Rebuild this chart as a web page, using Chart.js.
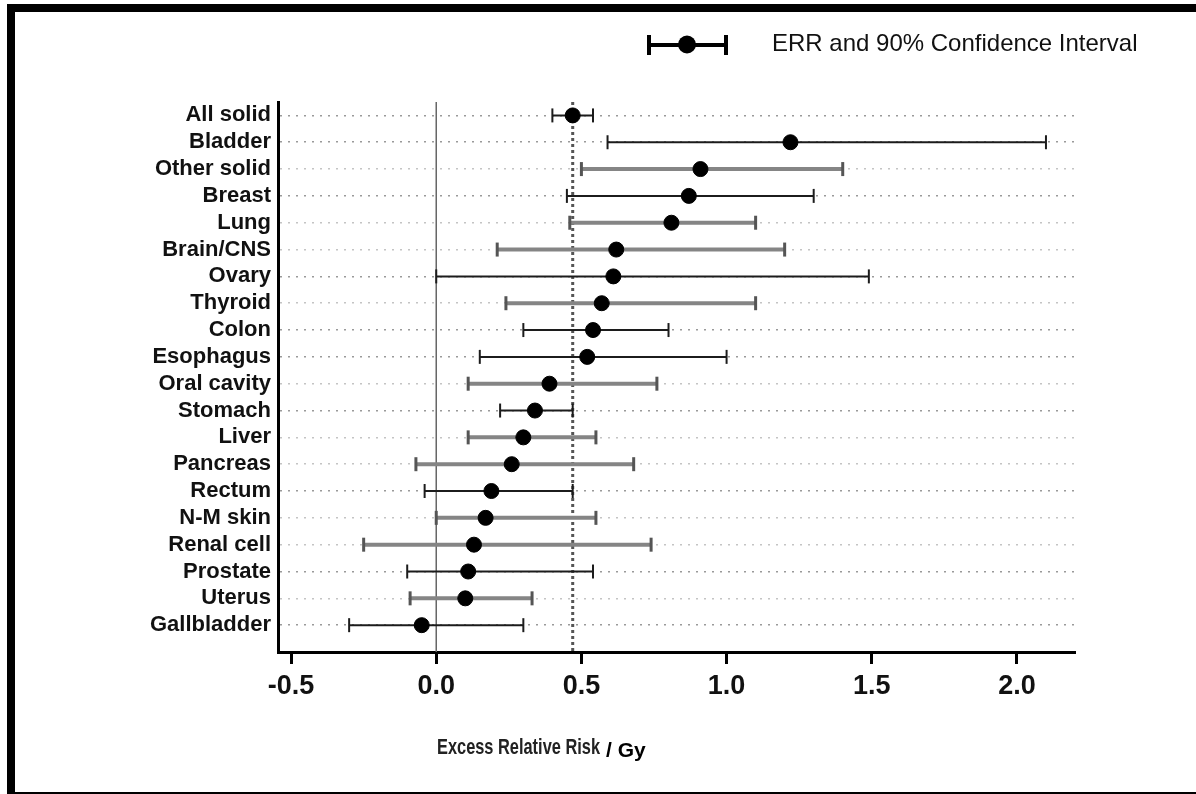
<!DOCTYPE html>
<html>
<head>
<meta charset="utf-8">
<script src="https://cdn.jsdelivr.net/npm/chart.js@4.4.1/dist/chart.umd.min.js"></script>
<style>
html, body { margin: 0; padding: 0; background: #fff; }
</style>
</head>
<body>
<canvas id="myChart" width="1196" height="794"></canvas>
<script>
var sites = ['All solid', 'Bladder', 'Other solid', 'Breast', 'Lung', 'Brain/CNS', 'Ovary', 'Thyroid', 'Colon',
    'Esophagus', 'Oral cavity', 'Stomach', 'Liver', 'Pancreas', 'Rectum', 'N-M skin', 'Renal cell', 'Prostate',
    'Uterus', 'Gallbladder'];
var err = [0.47, 1.22, 0.91, 0.87, 0.81, 0.62, 0.61, 0.57, 0.54, 0.52, 0.39, 0.34, 0.30, 0.26, 0.19, 0.17, 0.13, 0.11, 0.10, -0.05];
var lower = [0.40, 0.59, 0.50, 0.45, 0.46, 0.21, 0.00, 0.24, 0.30, 0.15, 0.11, 0.22, 0.11, -0.07, -0.04, 0.00, -0.25, -0.10, -0.09, -0.30];
var upper = [0.54, 2.10, 1.40, 1.30, 1.10, 1.20, 1.49, 1.10, 0.80, 1.00, 0.76, 0.47, 0.55, 0.68, 0.47, 0.55, 0.74, 0.54, 0.33, 0.30];
var xTicks = [-0.5, 0.0, 0.5, 1.0, 1.5, 2.0];
// rows drawn with the grey, thicker bars
var greyRows = ['Other solid', 'Lung', 'Brain/CNS', 'Thyroid', 'Oral cavity', 'Liver', 'Pancreas', 'N-M skin', 'Renal cell', 'Uterus'];

function isGrey(i) { return greyRows.indexOf(sites[i]) >= 0; }

var datasets = [];
// ERR points on top
datasets.push({
    type: 'scatter',
    data: err.map(function(v, i) { return {x: v, y: i}; }),
    backgroundColor: '#000',
    borderColor: '#000',
    pointRadius: 7.5,
    order: 0
});
// confidence intervals
sites.forEach(function(s, i) {
    var c = isGrey(i) ? '#858585' : '#1c1c1c';
    datasets.push({
        type: 'line',
        data: [{x: lower[i], y: i}, {x: upper[i], y: i}],
        borderColor: c,
        borderWidth: isGrey(i) ? 4 : 2,
        pointStyle: 'line',
        pointRotation: 90,
        pointRadius: 7,
        pointBorderColor: isGrey(i) ? '#555' : '#1c1c1c',
        pointBorderWidth: isGrey(i) ? 3 : 2,
        order: 1
    });
});
// zero line and All solid reference line
datasets.push({
    type: 'line',
    data: [{x: 0, y: -0.5}, {x: 0, y: 20}],
    borderColor: '#666',
    borderWidth: 1.5,
    pointRadius: 0,
    order: 2
});
datasets.push({
    type: 'line',
    data: [{x: err[0], y: -0.5}, {x: err[0], y: 20}],
    borderColor: '#555',
    borderWidth: 3,
    borderDash: [3, 3],
    pointRadius: 0,
    order: 2
});

var framePlugin = {
    id: 'frame',
    afterDraw: function(chart) {
        var c = chart.ctx;
        c.save();
        c.fillStyle = '#000';
        c.fillRect(7, 4, 1189, 8);
        c.fillRect(7, 4, 8, 790);
        c.fillRect(7, 792, 1189, 2);

        // legend
        c.strokeStyle = '#000';
        c.lineWidth = 4;
        c.beginPath();
        c.moveTo(649, 45); c.lineTo(726, 45);
        c.moveTo(649, 35); c.lineTo(649, 55);
        c.moveTo(726, 35); c.lineTo(726, 55);
        c.stroke();
        c.beginPath();
        c.arc(687, 44.5, 9, 0, Math.PI * 2);
        c.fill();
        c.fillStyle = '#111';
        c.font = '24px "Liberation Sans", Arial, sans-serif';
        c.textBaseline = 'middle';
        c.textAlign = 'left';
        c.fillText('ERR and 90% Confidence Interval', 772, 44);

        // axis title, first part condensed
        var t1 = 'Excess Relative Risk';
        c.font = 'bold 22px "Liberation Sans", Arial, sans-serif';
        var w = c.measureText(t1).width;
        var sx = 163 / w;
        c.save();
        c.translate(437, 748);
        c.scale(sx, 1);
        c.fillStyle = '#222';
        c.fillText(t1, 0, 0);
        c.restore();
        c.fillStyle = '#000';
        c.font = 'bold 21px "Liberation Sans", Arial, sans-serif';
        c.fillText('/ Gy', 437 + 163 + 6, 751);
        c.restore();
    }
};

var ctx = document.getElementById('myChart');
var myChart = new Chart(ctx, {
    type: 'scatter',
    data: { datasets: datasets },
    options: {
        responsive: false,
        animation: false,
        layout: { padding: { left: 0, right: 121, top: 102, bottom: 0 } },
        plugins: { legend: { display: false }, tooltip: { enabled: false } },
        scales: {
            x: {
                type: 'linear',
                min: -0.545,
                max: 2.2,
                afterFit: function(scale) { scale.height = 142; },
                afterBuildTicks: function(scale) {
                    scale.ticks = xTicks.map(function(v) { return {value: v}; });
                },
                grid: { drawOnChartArea: false, drawTicks: true, tickLength: 12, tickWidth: 3, tickColor: '#000' },
                border: { color: '#000', width: 3 },
                ticks: {
                    padding: 6,
                    autoSkip: false,
                    maxRotation: 0,
                    color: '#111',
                    font: { family: '"Liberation Sans", Arial, sans-serif', size: 27, weight: 'bold' },
                    callback: function(v) { return Number(v).toFixed(1); }
                }
            },
            y: {
                type: 'linear',
                reverse: true,
                min: -0.5,
                max: 20,
                afterFit: function(scale) { scale.width = 278; },
                afterBuildTicks: function(scale) {
                    scale.ticks = sites.map(function(s, i) { return {value: i}; });
                },
                grid: {
                    drawTicks: false,
                    lineWidth: 1.5,
                    color: function(c) { return isGrey(c.index) ? '#c4c4c4' : '#9a9a9a'; }
                },
                border: { color: '#000', width: 3, dash: [2, 6] },
                ticks: {
                    padding: 7,
                    autoSkip: false,
                    color: '#111',
                    font: { family: '"Liberation Sans", Arial, sans-serif', size: 22, weight: 'bold' },
                    callback: function(v) { return sites[v]; }
                }
            }
        }
    },
    plugins: [framePlugin]
});
</script>
</body>
</html>
